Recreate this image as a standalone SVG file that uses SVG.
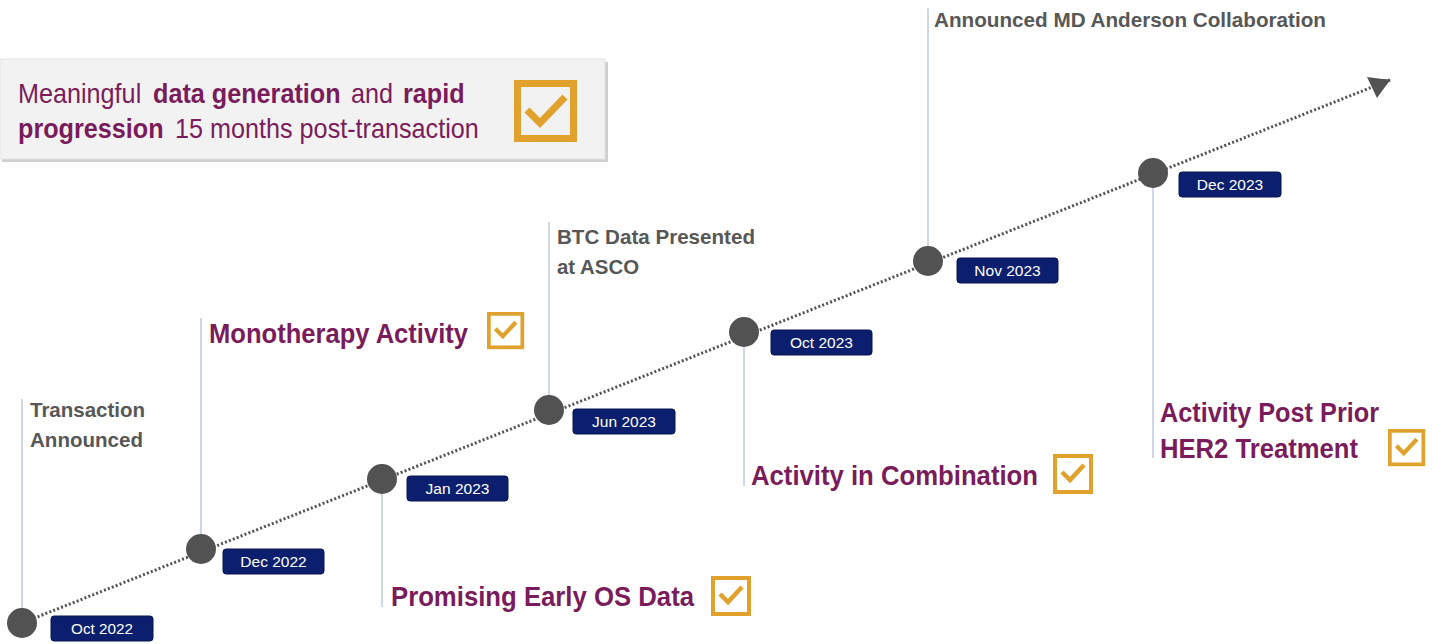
<svg xmlns="http://www.w3.org/2000/svg" xmlns:xlink="http://www.w3.org/1999/xlink" width="1438" height="644" viewBox="0 0 1438 644">
<style>
  .dot { fill: #525252; }
  .stem { stroke: #c6cce0; stroke-width: 1.6; fill: none; }
  .date rect { fill: #0c1f6e; stroke: #08164f; stroke-width: 1; }
  .date text { fill: #ffffff; font-family: "Liberation Sans", Arial, sans-serif; font-size: 15.5px; text-anchor: middle; }
  .gray { fill: #575757; font-family: "Liberation Sans", Arial, sans-serif; font-weight: bold; font-size: 21px; }
  .purple { fill: #7a1c5c; font-family: "Liberation Sans", Arial, sans-serif; font-weight: bold; font-size: 28px; }
  .head { fill: #7a1c5c; font-family: "Liberation Sans", Arial, sans-serif; font-size: 28px; }
  .b { font-weight: bold; }
  .orange { fill: none; stroke: #e0a22c; }
</style>
<defs>
  <marker id="arrow" viewBox="0 0 10 10" refX="9" refY="5" markerWidth="8" markerHeight="8" markerUnits="userSpaceOnUse" orient="auto">
    <path d="M0,0 L10,5 L0,10 z" fill="#525252"/>
  </marker>
  <g id="chk">
    <rect x="2" y="2" width="36" height="36" fill="#ffffff" stroke="#e0a22c" stroke-width="4"/>
    <path d="M9,18 L17,26 L31,11" fill="none" stroke="#e0a22c" stroke-width="4.5"/>
  </g>
</defs>
<rect width="1438" height="644" fill="#ffffff"/>

<g id="connectors">
  <path d="M22,623 L1390,80" stroke="#525252" stroke-width="3" stroke-dasharray="2 2.2" fill="none" marker-end="url(#arrow)"/>
  <path d="M1390,80 L1367,77 L1377,98 z" fill="#525252"/>
</g>

<g id="header">
  <rect x="2" y="62" width="606" height="100" fill="#cfcfcf"/>
  <rect x="0" y="59" width="605" height="100" fill="#f2f2f2" stroke="#e3e3e3" stroke-width="1"/>
  <text class="head" transform="translate(18,103) scale(0.9,1)">Meaningful</text>
  <text class="head b" transform="translate(153,103) scale(0.9,1)">data generation</text>
  <text class="head" transform="translate(351,103) scale(0.9,1)">and</text>
  <text class="head b" transform="translate(403,103) scale(0.9,1)">rapid</text>
  <text class="head b" transform="translate(18,138) scale(0.9,1)">progression</text>
  <text class="head" transform="translate(175,138) scale(0.9,1)">15 months post-transaction</text>
  <rect x="517.5" y="83.5" width="56" height="55" fill="#f2f2f2" stroke="#e0a22c" stroke-width="7"/>
  <path class="orange" d="M527,110 L540,123 L565,97" stroke-width="7"/>
</g>

<g id="oct2022">
  <line class="stem" x1="22" y1="399" x2="22" y2="623"/>
  <circle class="dot" cx="22" cy="623" r="15"/>
  <g class="date"><rect x="51" y="616" width="102" height="25" rx="3"/><text x="102" y="634" textLength="62" lengthAdjust="spacingAndGlyphs">Oct 2022</text></g>
  <text class="gray" x="30" y="417" textLength="115" lengthAdjust="spacingAndGlyphs">Transaction</text>
  <text class="gray" x="30" y="447" textLength="113" lengthAdjust="spacingAndGlyphs">Announced</text>
</g>

<g id="dec2022">
  <line class="stem" x1="201" y1="318" x2="201" y2="549"/>
  <circle class="dot" cx="201" cy="549" r="15"/>
  <g class="date"><rect x="223" y="549" width="101" height="25" rx="3"/><text x="273.5" y="567">Dec 2022</text></g>
  <text class="purple" x="209" y="343" textLength="259" lengthAdjust="spacingAndGlyphs">Monotherapy Activity</text>
  <use xlink:href="#chk" transform="translate(487,312) scale(0.93)"/>
</g>

<g id="jan2023">
  <line class="stem" x1="382" y1="479" x2="382" y2="607"/>
  <circle class="dot" cx="382" cy="479" r="15"/>
  <g class="date"><rect x="407" y="476" width="101" height="25" rx="3"/><text x="457.5" y="494">Jan 2023</text></g>
  <text class="purple" x="391" y="606" textLength="303" lengthAdjust="spacingAndGlyphs">Promising Early OS Data</text>
  <use xlink:href="#chk" transform="translate(711,576)"/>
</g>

<g id="jun2023">
  <line class="stem" x1="549" y1="222" x2="549" y2="410"/>
  <circle class="dot" cx="549" cy="410" r="15"/>
  <g class="date"><rect x="573" y="409" width="102" height="25" rx="3"/><text x="624" y="427">Jun 2023</text></g>
  <text class="gray" x="557" y="244" textLength="198" lengthAdjust="spacingAndGlyphs">BTC Data Presented</text>
  <text class="gray" x="557" y="274" textLength="82" lengthAdjust="spacingAndGlyphs">at ASCO</text>
</g>

<g id="oct2023">
  <line class="stem" x1="744" y1="332" x2="744" y2="486"/>
  <circle class="dot" cx="744" cy="332" r="15"/>
  <g class="date"><rect x="771" y="330" width="101" height="25" rx="3"/><text x="821.5" y="348">Oct 2023</text></g>
  <text class="purple" x="751" y="485" textLength="287" lengthAdjust="spacingAndGlyphs">Activity in Combination</text>
  <use xlink:href="#chk" transform="translate(1053,454)"/>
</g>

<g id="nov2023">
  <line class="stem" x1="928" y1="8" x2="928" y2="261"/>
  <circle class="dot" cx="928" cy="261" r="15"/>
  <g class="date"><rect x="957" y="258" width="101" height="25" rx="3"/><text x="1007.5" y="276">Nov 2023</text></g>
  <text class="gray" x="934" y="27" textLength="392" lengthAdjust="spacingAndGlyphs">Announced MD Anderson Collaboration</text>
</g>

<g id="dec2023">
  <line class="stem" x1="1153" y1="173" x2="1153" y2="458"/>
  <circle class="dot" cx="1153" cy="173" r="15"/>
  <g class="date"><rect x="1179" y="172" width="102" height="25" rx="3"/><text x="1230" y="190">Dec 2023</text></g>
  <text class="purple" x="1160" y="422" textLength="219" lengthAdjust="spacingAndGlyphs">Activity Post Prior</text>
  <text class="purple" x="1160" y="458" textLength="198" lengthAdjust="spacingAndGlyphs">HER2 Treatment</text>
  <use xlink:href="#chk" transform="translate(1388,429) scale(0.93)"/>
</g>
</svg>
